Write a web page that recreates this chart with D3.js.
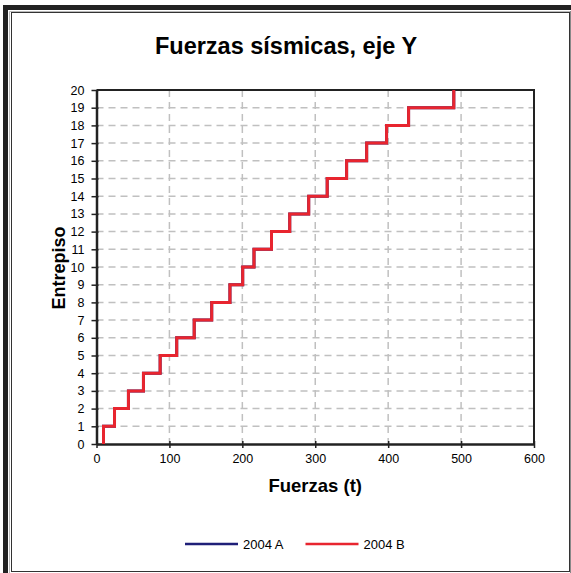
<!DOCTYPE html>
<html>
<head>
<meta charset="utf-8">
<script src="https://cdn.jsdelivr.net/npm/d3@7"></script>
<style>
  html, body { margin: 0; padding: 0; background: #fff; }
  svg { display: block; font-family: "Liberation Sans", Arial, sans-serif; }
</style>
</head>
<body>
<svg id="chart" width="571" height="573"></svg>
<script>
// ---- data ----
const storeys = [1,2,3,4,5,6,7,8,9,10,11,12,13,14,15,16,17,18,19,20];
const forces2004A = [9.6,24.7,43.8,64.4,87.3,110,134,158,183,200.5,216,240,265,291,316.4,343,370.5,397.8,428,490];
const forces2004B = [9.6,24.7,43.8,64.4,87.3,110,134,158,183,200.5,216,240,265,291,316.4,343,370.5,397.8,428,490];
const seriesNames = ["2004 A", "2004 B"];
const seriesColors = ["#1f1f78", "#e8252f"];
const xTicks = [0,100,200,300,400,500,600];
const yTicks = [0,1,2,3,4,5,6,7,8,9,10,11,12,13,14,15,16,17,18,19,20];

const svg = d3.select("#chart");

// frame
svg.append("path").attr("d", "M5.5,573 V7.5 H571").attr("fill","none").attr("stroke","#222").attr("stroke-width",5);
svg.append("path").attr("d", "M9.5,573 V11.5 H571").attr("fill","none").attr("stroke","#bbb").attr("stroke-width",1);
svg.append("rect").attr("x",11.5).attr("y",12.5).attr("width",558).attr("height",559)
  .attr("fill","#fff").attr("stroke","#333").attr("stroke-width",1);
svg.append("line").attr("x1",570.5).attr("x2",570.5).attr("y1",11).attr("y2",573).attr("stroke","#888").attr("stroke-width",1);

const L = 96.5, R = 534, T = 90, B = 444;
const x = d3.scaleLinear().domain([0,600]).range([L,R]);
const y = d3.scaleLinear().domain([0,20]).range([B,T]);

// title
svg.append("text").attr("x",286).attr("y",54).attr("text-anchor","middle")
  .attr("font-size",23.5).attr("font-weight","bold").text("Fuerzas sísmicas, eje Y");

// gridlines
const grid = svg.append("g").attr("stroke","#c0c0c0").attr("stroke-width",1.5).attr("stroke-dasharray","7,5");
grid.selectAll(".vg").data(xTicks.filter(d => d>0 && d<600)).join("line")
  .attr("x1", d=>x(d)).attr("x2", d=>x(d)).attr("y1", T).attr("y2", B);
grid.selectAll(".hg").data(yTicks.filter(d => d>0 && d<20)).join("line")
  .attr("y1", d=>y(d)).attr("y2", d=>y(d)).attr("x1", L).attr("x2", R);

// plot border top/right
svg.append("path").attr("d", `M${L},${T} H${R} V${B}`).attr("fill","none").attr("stroke","#222").attr("stroke-width",2);

// axes
const xAxis = svg.append("g").attr("transform", `translate(0,${B})`)
  .call(d3.axisBottom(x).tickValues(xTicks).tickSizeInner(4).tickSizeOuter(0).tickPadding(6));
const yAxis = svg.append("g").attr("transform", `translate(${L},0)`)
  .call(d3.axisLeft(y).tickValues(yTicks).tickSizeInner(5).tickSizeOuter(0).tickPadding(7));
[xAxis, yAxis].forEach(a => {
  a.select(".domain").attr("stroke","#222").attr("stroke-width",2.5);
  a.selectAll(".tick line").attr("stroke","#222").attr("stroke-width",1.5);
  a.selectAll(".tick text").attr("font-size",12.5).attr("fill","#000")
    .attr("font-family","Liberation Sans, Arial, sans-serif");
});
xAxis.selectAll(".tick line").attr("y1",-3);
yAxis.selectAll(".tick line").attr("x1",2);

// axis titles
svg.append("text").attr("x",(L+R)/2).attr("y",492).attr("text-anchor","middle")
  .attr("font-size",18.5).attr("font-weight","bold").text("Fuerzas (t)");
svg.append("text").attr("transform",`translate(64.5,268) rotate(-90)`).attr("text-anchor","middle")
  .attr("font-size",18).attr("font-weight","bold").text("Entrepiso");

// series as step lines
function stepPoints(forces) {
  const pts = [];
  storeys.forEach((s,i) => { pts.push([forces[i], s-1]); pts.push([forces[i], s]); });
  return pts;
}
const line = d3.line().x(d=>x(d[0])).y(d=>y(d[1]));
[forces2004A, forces2004B].forEach((f,i) => {
  svg.append("path").datum(stepPoints(f)).attr("d", line)
    .attr("fill","none").attr("stroke", seriesColors[i]).attr("stroke-width",3)
    .attr("stroke-linejoin","miter");
});

// legend
const legX = [185, 305.5];
const leg = svg.append("g");
seriesNames.forEach((n,i) => {
  leg.append("line").attr("x1",legX[i]).attr("x2",legX[i]+53).attr("y1",544).attr("y2",544)
    .attr("stroke",seriesColors[i]).attr("stroke-width",2.5);
  leg.append("text").attr("x",legX[i]+58).attr("y",548.5).attr("font-size",13).text(n);
});
</script>
</body>
</html>
